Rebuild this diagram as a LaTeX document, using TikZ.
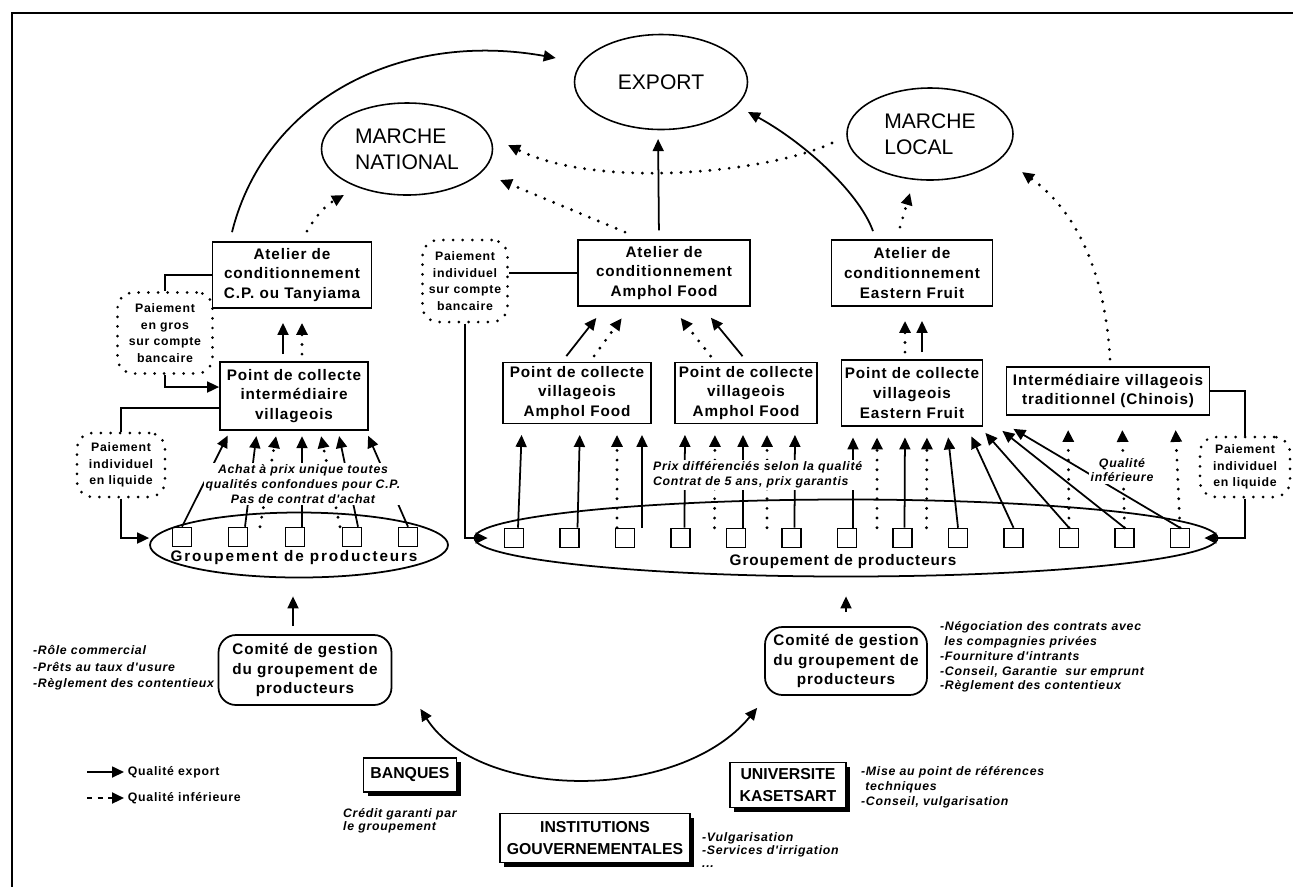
\documentclass[tikz,border=0pt]{standalone}
\usepackage{fontspec}
\setmainfont{Liberation Sans}
\newfontfamily\spaced{Liberation Sans}[LetterSpace=6]
\usetikzlibrary{arrows.meta,shapes.geometric,calc,shadows}
\newlength\pxl
\setlength\pxl{0.02cm}
\newcommand\boxfont{\spaced\bfseries\fontsize{8.7}{11.3}\selectfont}
\newcommand\payfont{\spaced\bfseries\fontsize{7}{9.4}\selectfont}
\newcommand\notefont{\spaced\bfseries\itshape\fontsize{7}{8.4}\selectfont}
\newcommand\notetight{\spaced\bfseries\itshape\fontsize{7}{7.4}\selectfont}
\newcommand\noteloose{\spaced\bfseries\itshape\fontsize{7}{9.4}\selectfont}
\newcommand\mktfont{\fontsize{12}{14.7}\selectfont}
\newcommand\instfont{\bfseries\fontsize{9}{12}\selectfont}
\begin{document}
\begin{tikzpicture}[x=0.02cm, y=-0.02cm, >={Triangle[length=2.4mm, width=2.2mm]},
    box/.style={draw, line width=1pt, align=center, inner sep=1pt, font=\boxfont},
    mkt/.style={draw, ellipse, line width=0.9pt, align=left, inner sep=0pt, font=\mktfont},
    pay/.style={draw, line width=1.7pt, dash pattern=on 0pt off 5.5pt, line cap=round, rounded corners=9pt, align=center, inner sep=1pt, font=\payfont},
    sq/.style={draw, line width=0.9pt, minimum width=19*\pxl, minimum height=19*\pxl, inner sep=0pt},
    note/.style={align=left, inner sep=1pt, font=\notefont},
    instbox/.style={draw, line width=1pt, fill=white, align=center, inner sep=1pt, font=\instfont, drop shadow={shadow xshift=2.5pt, shadow yshift=-2.5pt, opacity=1, fill=black}},
    exp/.style={->, line width=1pt},
    inf/.style={->, line width=1.8pt, dash pattern=on 0pt off 5.5pt, line cap=round},
    pa/.style={shorten <=4pt, shorten >=8pt}]
    \useasboundingbox (0,0) rectangle (1293,887);
    \draw[line width=1pt] (1293,13) -- (12,13) -- (12,887);

    \node[mkt, minimum width=173*\pxl, minimum height=95*\pxl] (export) at (661,82) {EXPORT};
    \node[mkt, minimum width=171*\pxl, minimum height=92*\pxl] (national) at (407,149) {MARCHE\\NATIONAL};
    \node[mkt, minimum width=166*\pxl, minimum height=92*\pxl] (local) at (930,134) {MARCHE\\LOCAL};

    \node[box, minimum width=159*\pxl, minimum height=66*\pxl] (atCP) at (292,275) {Atelier de\\conditionnement\\C.P. ou Tanyiama};
    \node[box, minimum width=172*\pxl, minimum height=66*\pxl] (atAF) at (664,273) {Atelier de\\conditionnement\\Amphol Food};
    \node[box, minimum width=161*\pxl, minimum height=66*\pxl] (atEF) at (912,273) {Atelier de\\conditionnement\\Eastern Fruit};

    \node[box, minimum width=148*\pxl, minimum height=68*\pxl] (pcCP) at (294,396) {Point de collecte\\intermédiaire\\villageois};
    \node[box, minimum width=148*\pxl, minimum height=61*\pxl] (pcAF1) at (577,393) {Point de collecte\\villageois\\Amphol Food};
    \node[box, minimum width=142*\pxl, minimum height=61*\pxl] (pcAF2) at (746,393) {Point de collecte\\villageois\\Amphol Food};
    \node[box, minimum width=141*\pxl, minimum height=66*\pxl] (pcEF) at (912,393) {Point de collecte\\villageois\\Eastern Fruit};
    \node[box, minimum width=203*\pxl, minimum height=48*\pxl] (chin) at (1108,391) {Intermédiaire villageois\\traditionnel (Chinois)};

    \node[pay, minimum width=85*\pxl, minimum height=82*\pxl] (payBank) at (465,281) {Paiement\\individuel\\sur compte\\bancaire};
    \node[pay, minimum width=95*\pxl, minimum height=81*\pxl] (payGros) at (165,333) {Paiement\\en gros\\sur compte\\bancaire};
    \node[pay, minimum width=88*\pxl, minimum height=64*\pxl] (payLiqL) at (121,465) {Paiement\\individuel\\en liquide};
    \node[pay, minimum width=90*\pxl, minimum height=60*\pxl] (payLiqR) at (1245,467) {Paiement\\individuel\\en liquide};

    \node[draw, ellipse, line width=1pt, minimum width=298*\pxl, minimum height=65*\pxl] (grpL) at (299,545) {};
    \node[draw, ellipse, line width=1pt, minimum width=743*\pxl, minimum height=77*\pxl] (grpR) at (846,538) {};
    \node[font={\boxfont\addfontfeature{LetterSpace=12}}] (grpLlab) at (294,558) {Groupement de producteurs};
    \node[font=\boxfont] (grpRlab) at (843,562) {Groupement de producteurs};
    \foreach \i/\x in {1/182,2/238,3/295,4/352,5/408}
        \node[sq] (sqL\i) at (\x,537) {};
    \foreach \i in {1,...,13}
        \node[sq] (sqR\i) at ({514+55.5*(\i-1)},538) {};

    \node[box, rounded corners=10pt, minimum width=173*\pxl, minimum height=70*\pxl] (comL) at (305,670) {Comité de gestion\\du groupement de\\producteurs};
    \node[box, rounded corners=10pt, minimum width=162*\pxl, minimum height=68*\pxl] (comR) at (846,661) {Comité de gestion\\du groupement de\\producteurs};

    \node[instbox, minimum width=93*\pxl, minimum height=34*\pxl] (banq) at (410,775) {BANQUES};
    \node[instbox, minimum width=190*\pxl, minimum height=49*\pxl] (inst) at (595,838) {INSTITUTIONS\\GOUVERNEMENTALES};
    \node[instbox, minimum width=116*\pxl, minimum height=45*\pxl] (univ) at (788,785) {UNIVERSITE\\KASETSART};

    \draw[exp] ($(atCP.north)+(-60,-9)$) .. controls (265,100) and (400,30) .. ($(export.west)+(-18,-24)$);
    \draw[exp, shorten <=5pt, shorten >=5pt] ($(atAF.north)+(-5,0)$) -- ($(export.south)+(-3,0)$);
    \draw[exp] ($(atEF.north)+(-39,-8)$) .. controls (858,190) and (800,140) .. ($(export.center)+(87,30)$);
    \draw[inf] ($(atCP.north)+(15,-10)$) to[bend left=15] ($(national.center)+(-63,46)$);
    \draw[inf] ($(atAF.north)+(-39,-7)$) -- ($(national.center)+(93,31)$);
    \draw[inf] ($(local.center)+(-98,9)$) .. controls (770,172) and (600,190) .. ($(national.center)+(101,-4)$);
    \draw[inf] ($(atEF.north)+(-12,-12)$) -- ($(local.center)+(-20,59)$);
    \draw[inf] ($(chin.north)+(2,-7)$) .. controls (1105,270) and (1075,210) .. ($(local.center)+(92,38)$);

    \draw[line width=1pt] (atCP.west) -| (payGros.north);
    \draw[exp] (payGros.south) |- ($(pcCP.west)+(0,-9)$);
    \draw[line width=1pt] ($(pcCP.west)+(0,12)$) -| (payLiqL.north);
    \draw[exp] (payLiqL.south) |- ($(grpL.west)+(0,-7)$);
    \draw[line width=1pt] (payBank.east |- atAF.west) -- (atAF.west);
    \draw[exp] (payBank.south) |- ($(grpR.west)+(14,0)$);
    \draw[line width=1pt] (chin.east) -| (payLiqR.north);
    \draw[exp] (payLiqR.south) |- ($(grpR.east)+(-14,0)$);

    \draw[exp, pa] ($(pcCP.north)+(-11,0)$) -- ($(atCP.south)+(-9,0)$);
    \draw[inf, pa] ($(pcCP.north)+(8,0)$) -- ($(atCP.south)+(10,0)$);
    \draw[inf, pa] ($(pcEF.north)+(-7,0)$) -- ($(atEF.south)+(-7,0)$);
    \draw[exp, pa] ($(pcEF.north)+(10,0)$) -- ($(atEF.south)+(10,0)$);
    \draw[exp, pa] ($(pcAF1.north)+(-15,0)$) -- ($(atAF.south)+(-59,0)$);
    \draw[inf, pa] ($(pcAF1.north)+(13,0)$) -- ($(atAF.south)+(-34,0)$);
    \draw[inf, pa] ($(pcAF2.north)+(-31,0)$) -- ($(atAF.south)+(8,0)$);
    \draw[exp, pa] ($(pcAF2.north)+(1,0)$) -- ($(atAF.south)+(38,0)$);

    \foreach \s/\dx/\tx/\st in {1/0/-64/exp, 2/7/-37/exp, 2/22/-17/inf, 3/7/8/exp, 4/-12/26/inf, 4/6/44/exp, 5/0/72/exp}
        \draw[\st, shorten >=3pt] ($(sqL\s.north)+(\dx,0)$) -- ($(pcCP.south)+(\tx,0)$);
    \foreach \s/\dx/\tx/\st in {1/4/-55/exp, 2/8/3/exp, 3/-8/40/inf, 3/17/65/exp}
        \draw[\st, shorten >=6pt] ($(sqR\s.north)+(\dx,0)$) -- ($(pcAF1.south)+(\tx,0)$);
    \foreach \s/\dx/\tx/\st in {4/4/-61/exp, 4/34/-31/inf, 5/7/-3/exp, 5/31/21/inf, 6/3/49/exp}
        \draw[\st, shorten >=6pt] ($(sqR\s.north)+(\dx,0)$) -- ($(pcAF2.south)+(\tx,0)$);
    \foreach \s/\dx/\tx/\st in {7/6/-59/exp, 7/30/-35/inf, 8/2/-7/exp, 8/24/15/inf, 9/0/35/exp, 10/0/55/exp}
        \draw[\st, shorten >=6pt] ($(sqR\s.north)+(\dx,0)$) -- ($(pcEF.south)+(\tx,0)$);
    \foreach \s/\tx/\ty in {11/2/6, 12/19/4, 13/30/2}
        \draw[exp] (sqR\s.north) -- ($(pcEF.south east)+(\tx,\ty)$);
    \foreach \s/\tx in {11/-40, 12/14, 13/67}
        \draw[inf, shorten >=8pt] (sqR\s.north) -- ($(chin.south)+(\tx,0)$);

    \draw[exp] ($(comL.north)+(-12,-8)$) -- ($(grpL.south)+(-6,18)$);
    \draw[exp] ($(comR.north)+(0,-14)$) -- ($(grpR.south)+(0,19)$);
    \draw[<->, line width=1pt] ($(comL.south east)+(28,3)$) .. controls (480,802) and (680,802) .. ($(comR.south west)+(-7,12)$);

    \node[note, fill=white, align=center] (achat) at (303,484) {Achat à prix unique toutes\\qualités confondues pour C.P.\\Pas de contrat d'achat};
    \node[note, fill=white, anchor=west] (prix) at (651,475) {Prix différenciés selon la qualité\\Contrat de 5 ans, prix garantis};
    \node[note, fill=white, align=center] (qinf) at (1122,470) {Qualité\\inférieure};
    \node[note, font=\noteloose, anchor=west] (roleL) at (31,668) {-Rôle commercial\\-Prêts au taux d'usure\\-Règlement des contentieux};
    \node[note, anchor=west] (roleR) at (938,657) {-Négociation des contrats avec\\\ les compagnies privées\\-Fourniture d'intrants\\-Conseil, Garantie\ \ sur emprunt\\-Règlement des contentieux};
    \node[note, font=\notetight, anchor=west] (credit) at (341,821) {Crédit garanti par\\le groupement};
    \node[note, font=\notetight, anchor=west] (instnote) at (700,850) {-Vulgarisation\\-Services d'irrigation\\...};
    \node[note, anchor=west] (univnote) at (859,787) {-Mise au point de références\\\ techniques\\-Conseil, vulgarisation};

    \coordinate (lgA) at (87,772);
    \coordinate (lgB) at (87,798);
    \node[font=\payfont, anchor=west, inner sep=2pt] (lgExp) at (124,772) {Qualité export};
    \node[font=\payfont, anchor=west, inner sep=2pt] (lgInf) at (124,798) {Qualité inférieure};
    \draw[exp] (lgA) -- (lgExp.west);
    \draw[->, line width=1.2pt, dash pattern=on 3pt off 3pt] (lgB) -- (lgInf.west);
\end{tikzpicture}
\end{document}
